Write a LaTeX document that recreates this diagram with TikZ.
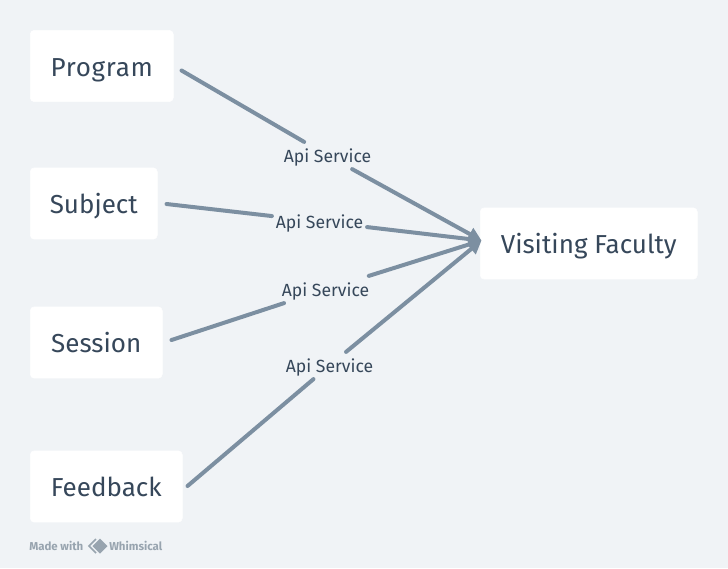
\documentclass[tikz,border=0pt]{standalone}
\usepackage{fontspec}
\setmainfont{Fira Sans}
\usetikzlibrary{arrows.meta,calc}
\definecolor{bgc}{HTML}{F0F3F6}
\definecolor{ink}{HTML}{36475A}
\definecolor{conn}{HTML}{7C8FA1}
\definecolor{brandc}{HTML}{98A4AF}
\tikzset{
  card/.style={fill=white,draw=white,rounded corners=3pt,anchor=west,minimum height=53.5pt,inner sep=0pt,text=ink,text height=15.5pt,text depth=0pt,font=\fontsize{19.5}{23}\selectfont},
  link/.style={draw=conn,line width=3pt,line cap=round},
  linktip/.style={link,-{Triangle[length=10pt,width=10pt]}},
  apilabel/.style={text=ink,inner sep=0pt,minimum width=71pt,minimum height=20pt,text height=10.2pt,text depth=0pt,font=\fontsize{13.2}{15}\selectfont},
  madewith/.style={text=brandc,inner sep=0pt,anchor=west,font=\bfseries\fontsize{8.6}{10}\selectfont}
}
\begin{document}
\begin{tikzpicture}[x=0.75pt,y=-0.75pt]
\useasboundingbox[fill=bgc] (0,0) rectangle (728,568);
\node[card,minimum width=107.25pt] (program) at (30,66) {\addfontfeature{LetterSpace=2.7}Program};
\node[card,minimum width=95.25pt] (subject) at (30,203.5) {Subject};
\node[card,minimum width=99pt] (session) at (30,342.5) {Session};
\node[card,minimum width=114pt] (feedback) at (30,486.5) {Feedback};
\node[card,minimum width=162.75pt] (faculty) at (480,243.5) {Visiting Faculty};
\node[apilabel] (l1) at (327.5,155.5) {Api Service};
\node[apilabel] (l2) at (319.5,221.5) {Api Service};
\node[apilabel] (l3) at (325.5,289.5) {Api Service};
\node[apilabel] (l4) at (329.5,365.5) {Api Service};
\coordinate (tip) at ($(faculty.west)+(1.5,-3)$);
\draw[link] ($(program.east)+(8,4.5)$) -- (l1);
\draw[linktip] (l1) -- (tip);
\draw[link] ($(subject.east)+(9,0.5)$) -- (l2);
\draw[linktip] (l2) -- (tip);
\draw[link] ($(session.east)+(9,-2.5)$) -- (l3);
\draw[linktip] (l3) -- (tip);
\draw[link] ($(feedback.east)+(5,-0.5)$) -- (l4);
\draw[linktip] (l4) -- (tip);
\node[madewith] (made) at (29,545.5) {Made with};
\node[madewith] (whim) at (109,545.5) {Whimsical};
\draw[brandc,line width=1.3pt,line join=miter] (96,539) -- (89,546) -- (96,553);
\fill[brandc] (100,538.5) -- (107.5,546) -- (100,553.5) -- (92.5,546) -- cycle;
\end{tikzpicture}
\end{document}
